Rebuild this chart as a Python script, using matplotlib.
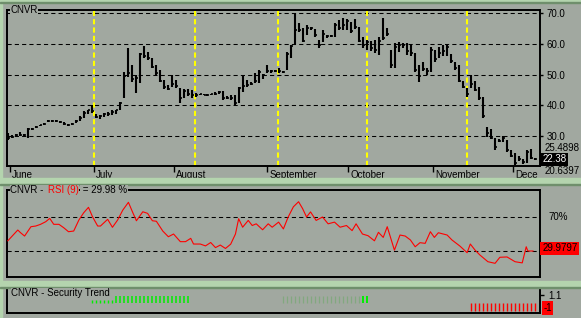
import numpy as np
import matplotlib
matplotlib.use("Agg")
import matplotlib.pyplot as plt
from matplotlib.patches import Rectangle
import matplotlib.transforms as mtransforms

# --- price bars (one per trading day, June..early December)
highs = [31.0, 30.2, 30.6, 31.2, 30.8, 32.6, 32.6, 33.1, 33.7, 34.3,
         35.2, 35.3, 35.2, 34.8, 34.4, 34.0, 34.2, 35.3, 36.4, 38.0,
         38.6, 40.0, 37.2, 36.8, 37.4, 37.8, 38.3, 38.6, 41.0, 50.8,
         58.6, 53.0, 49.8, 57.0, 59.3, 57.3, 55.4, 53.0, 51.5, 48.2,
         46.6, 49.8, 48.2, 45.6, 45.3, 45.3, 45.0, 44.0, 43.8, 43.8,
         43.6, 43.8, 44.2, 44.6, 44.5, 43.0, 43.2, 43.3, 46.0, 49.8,
         48.2, 47.5, 50.5, 51.5, 50.3, 53.0, 51.6, 51.5, 52.0, 51.2,
         57.3, 59.6, 70.0, 66.7, 65.1, 66.0, 65.6, 64.8, 61.2, 64.5,
         63.0, 63.0, 66.7, 67.7, 68.4, 68.0, 67.0, 68.0, 65.4, 62.2,
         61.2, 61.0, 61.2, 62.2, 68.4, 65.0, 58.0, 60.2, 60.6, 60.3,
         60.2, 60.0, 57.0, 53.0, 54.0, 52.0, 59.0, 58.0, 59.0, 59.5,
         59.5, 56.7, 54.0, 53.0, 47.9, 45.6, 49.8, 48.0, 46.0, 42.7,
         32.9, 32.3, 29.3, 29.0, 30.0, 28.7, 25.4, 24.4, 23.5, 22.5,
         25.4, 25.7, 22.8]
lows = [28.8, 29.3, 29.7, 30.1, 29.8, 29.4, 32.0, 32.6, 33.1, 33.6,
        34.4, 34.6, 34.7, 34.2, 33.7, 33.3, 33.5, 34.1, 35.0, 35.8,
        37.3, 37.6, 35.8, 35.6, 36.2, 36.6, 36.9, 37.0, 38.6, 42.4,
        49.2, 47.6, 44.0, 47.2, 55.4, 54.7, 52.0, 50.0, 47.6, 45.4,
        45.0, 46.0, 45.6, 40.7, 42.4, 43.0, 42.4, 42.6, 43.2, 43.2,
        43.1, 43.2, 43.4, 43.8, 41.8, 42.0, 41.8, 40.2, 40.7, 44.3,
        46.0, 46.5, 47.2, 47.2, 48.5, 50.5, 50.6, 50.8, 50.6, 50.4,
        51.5, 55.4, 60.0, 63.8, 60.5, 62.8, 64.4, 62.2, 58.6, 60.6,
        62.0, 62.2, 62.2, 64.5, 64.5, 64.5, 63.5, 64.8, 60.6, 58.6,
        58.0, 57.7, 57.0, 56.3, 61.2, 62.5, 52.0, 52.0, 57.3, 58.5,
        56.3, 56.0, 50.8, 47.6, 51.0, 50.0, 50.8, 54.0, 55.5, 56.0,
        56.0, 53.7, 51.5, 47.6, 45.6, 42.7, 45.6, 44.5, 41.7, 35.9,
        29.7, 28.9, 25.4, 28.0, 28.0, 24.8, 23.2, 20.6, 22.0, 21.0,
        21.2, 22.5, 22.2]
closes = [29.2, 29.8, 30.2, 30.4, 30.2, 32.3, 32.4, 32.9, 33.5, 34.0,
          34.9, 34.9, 34.9, 34.4, 33.9, 33.6, 33.9, 35.0, 36.0, 37.6,
          38.3, 38.2, 36.2, 36.4, 37.0, 37.2, 37.8, 38.3, 40.6, 49.5,
          50.5, 48.5, 49.0, 56.8, 56.0, 55.5, 52.5, 50.5, 48.0, 46.0,
          45.4, 46.8, 46.2, 42.5, 44.6, 43.5, 43.2, 43.3, 43.5, 43.4,
          43.3, 43.6, 43.8, 44.2, 42.4, 42.5, 42.2, 40.6, 45.5, 46.4,
          46.5, 47.0, 48.0, 50.8, 50.0, 51.0, 51.2, 51.2, 51.0, 50.8,
          56.8, 59.3, 64.5, 64.5, 61.0, 65.2, 65.0, 63.0, 59.5, 63.2,
          62.5, 62.6, 66.2, 65.0, 66.0, 67.5, 64.0, 65.5, 61.0, 59.5,
          60.5, 58.5, 58.0, 61.0, 62.0, 63.2, 53.0, 58.8, 59.5, 59.6,
          57.5, 57.0, 51.5, 49.5, 51.8, 51.0, 58.0, 55.0, 57.0, 57.5,
          59.0, 54.5, 52.0, 48.0, 46.0, 43.5, 47.0, 45.0, 42.5, 36.5,
          31.0, 29.5, 26.5, 28.5, 29.5, 25.5, 23.6, 21.2, 22.5, 21.5,
          24.8, 23.0, 22.38]

months = ["June", "July", "August", "September", "October", "November", "Dece"]
month_pos = [0.5, 21.5, 41.5, 65.0, 85.3, 106.5, 126.5]
cycle_lines = [21.5, 46.8, 67.6, 89.9, 114.9]
price_levels = [30, 40, 50, 60, 70]

# --- RSI(9) polyline vertices (bar index, value)
rsi_idx = [0, 2.5, 3.2, 4.2, 5.8, 7, 8.2, 9.5, 10.5, 11.5, 12.8, 14, 15.2,
           16.5, 17.8, 19, 20.2, 21.2, 22.5, 23.2, 25, 26.2, 27.5, 28.8, 30.2,
           31.2, 32.2, 33.8, 35, 36.2, 37.2, 38.8, 40.2, 41.5, 43.2, 44.5, 45.8,
           46.5, 48.2, 49.5, 50.8, 52, 53.2, 54.5, 55.8, 57, 57.8, 58.8, 60.2,
           61.2, 62.2, 63.8, 65.2, 66.2, 67.8, 69, 70.2, 71.5, 72.8, 73.8, 74.8,
           75.8, 77.2, 78.8, 80.2, 81.8, 83.2, 84.8, 86.2, 87.2, 88.8, 90.2,
           91.8, 92.8, 94, 95, 96.8, 98.2, 99.5, 100.8, 102, 103.2, 104.5, 105.8,
           106.8, 107.8, 110, 111.2, 113.2, 115, 115.8, 117, 118.2, 120.2, 122,
           123.2, 125, 127, 128.8, 129.8, 130.2, 131.5]
rsi_val = [42, 54.7, 51.5, 47.6, 58.6, 59.4, 61.4, 64.5, 68.4, 61.4, 61.4,
           57.4, 52.7, 53.5, 66.5, 75, 81.4, 70.4, 59.4, 59.4, 67.3, 57.9, 66.5,
           78.2, 87.3, 76.2, 65.6, 76.2, 74.3, 65.6, 65, 53.5, 46.8, 50, 41, 41,
           44.9, 38.2, 38.2, 36, 40, 34, 37, 33, 38, 50, 68, 58, 66, 60, 62, 55,
           62, 58, 64, 56, 70, 82, 88, 80, 70, 76, 66, 70, 62, 64, 58, 60, 54,
           62, 50, 48, 42, 52, 46, 58.6, 31, 48.8, 47.6, 43, 35, 39.8, 39, 52.7,
           46, 51.5, 48.8, 43, 35.8, 28, 38.2, 31, 25.3, 17.4, 15.5, 22.6, 23,
           17.4, 16, 35, 30, 30]
rsi_levels = [30, 70]

# --- security trend histogram
trend_weak_up = list(range(21, 27))
trend_up = list(range(27, 46))
trend_up_dim = list(range(69, 89))
trend_up_late = [89, 90]
trend_down = list(range(116, 133))

bg = "#a1a8a0"
band = "#b4d4ae"
W, H = 581, 318


def fig_box(px_left, px_top, px_right, px_bottom):
    return [px_left / W, 1 - px_bottom / H, (px_right - px_left) / W,
            (px_bottom - px_top) / H]


plt.rcParams['font.family'] = ['Liberation Sans', 'DejaVu Sans']
fig = plt.figure(figsize=(5.81, 3.18), dpi=100, facecolor=bg)
fs = 7

# light green frame bands
for (x0, y0, w, h) in [(0, 0, 581, 2), (0, 0, 2, 318), (0, 178, 581, 6), (0, 281, 581, 6)]:
    fig.patches.append(Rectangle((x0 / W, 1 - (y0 + h) / H), w / W, h / H,
                                 transform=fig.transFigure, color=band, zorder=0))
for yy in [2, 184, 287]:
    fig.patches.append(Rectangle((0, 1 - (yy + 1) / H), 1, 1 / H,
                                 transform=fig.transFigure, color="#6f8f6c", zorder=0))

ax = fig.add_axes(fig_box(7, 10, 540, 166))
ax_rsi = fig.add_axes(fig_box(7, 190, 540, 277))
ax_tr = fig.add_axes(fig_box(7, 288, 540, 313))

for a in (ax, ax_rsi, ax_tr):
    a.set_facecolor(bg)
    a.set_xlim(-0.2, 133.25)
    for s in a.spines.values():
        s.set_linewidth(1.4)
        s.set_color("black")
    a.tick_params(labelsize=fs, length=0, pad=3)

idx = np.arange(len(highs))

# main price panel
ax.set_ylim(20.24, 70.98)
for lv in price_levels:
    ax.axhline(lv, color="black", lw=0.75, ls=(0, (4, 3)), zorder=1)
for cx in cycle_lines:
    ax.axvline(cx, color="#ffff00", lw=1.5, ls=(0, (2.5, 1.5)), zorder=2)
ax.vlines(idx, lows, highs, color="black", lw=1.5, zorder=3)
ax.hlines(closes, idx, idx + 0.5, color="black", lw=1.2, zorder=3)
ax.yaxis.tick_right()
ax.set_yticks(price_levels)
ax.set_yticklabels(["%.1f" % v for v in price_levels])
ax.tick_params(axis="y", length=2, width=1, pad=3)
ax.set_xticks(month_pos)
ax.set_xticklabels(months, ha="left")
ax.tick_params(axis="x", length=4, width=1, pad=-1, direction="out")
for lbl in ax.get_xticklabels():
    lbl.set_transform(lbl.get_transform() + mtransforms.ScaledTranslation(2 / 100, 0, fig.dpi_scale_trans))
ax.text(0.006, 1.0, "CNVR", transform=ax.transAxes, fontsize=fs, va="center", ha="left",
        bbox=dict(fc=bg, ec="none", pad=0.3))
ax.text(1.008, 26.1, "25.4898", transform=ax.get_yaxis_transform(), fontsize=fs,
        va="center", ha="left", clip_on=False)
ax.text(1.008, 18.5, "20.6397", transform=ax.get_yaxis_transform(), fontsize=fs,
        va="center", ha="left", clip_on=False)
ax.text(1.004, closes[-1], "%.2f" % closes[-1], transform=ax.get_yaxis_transform(),
        fontsize=fs, va="center", ha="left", color="white", clip_on=False,
        bbox=dict(fc="black", ec="none", pad=1.2))

# RSI panel
ax_rsi.set_ylim(-0.6, 101.8)
for lv in rsi_levels:
    ax_rsi.axhline(lv, color="black", lw=0.75, ls=(0, (4, 3)), zorder=1)
ax_rsi.plot(rsi_idx, rsi_val, color="red", lw=0.8, zorder=3)
ax_rsi.set_xticks([])
ax_rsi.set_yticks([])
ax_rsi.text(1.015, 70, "70%", transform=ax_rsi.get_yaxis_transform(), fontsize=fs,
            va="center", ha="left", clip_on=False)
ax_rsi.text(1.004, 33, "29.9797", transform=ax_rsi.get_yaxis_transform(), fontsize=fs,
            va="center", ha="left", color="black", clip_on=False,
            bbox=dict(fc="#ff0000", ec="none", pad=1.2))

# multi-coloured RSI title, parts placed one after another
renderer = fig.canvas.get_renderer()
title_parts = [("CNVR - ", "black"), ("RSI (9)", "red"), (" = 29.98 %", "black")]
tx = 10 / W
for txt, col in title_parts:
    t = fig.text(tx, 1 - 190 / H, txt, color=col, fontsize=fs, va="center", ha="left",
                 bbox=dict(fc=bg, ec="none", pad=0.3), zorder=5)
    bb = t.get_window_extent(renderer)
    tx = bb.x1 / fig.bbox.width + 1.5 / W

# security trend panel
ax_tr.set_ylim(-1.27, 2.07)
ax_tr.vlines(trend_weak_up, 0, 0.5, color="#00ee00", lw=1.0)
ax_tr.vlines(trend_up, 0, 1, color="#00ee00", lw=1.1)
ax_tr.vlines(trend_up_dim, 0, 1, color="#82a880", lw=0.9)
ax_tr.vlines(trend_up_late, 0, 1, color="#00ee00", lw=1.4)
ax_tr.vlines(trend_down, 0, -1, color="#ff0000", lw=1.0)
ax_tr.set_xticks([])
ax_tr.yaxis.tick_right()
ax_tr.set_yticks([1.1])
ax_tr.set_yticklabels(["1.1"])
ax_tr.tick_params(axis="y", length=3, width=1, pad=3)
ax_tr.text(1.006, -0.62, "-1", transform=ax_tr.get_yaxis_transform(), fontsize=fs,
           va="center", ha="left", color="black", clip_on=False,
           bbox=dict(fc="#ff0000", ec="none", pad=1.2))
fig.text(11 / W, 1 - 293 / H, "CNVR - Security Trend", fontsize=fs, va="center", ha="left",
         bbox=dict(fc=bg, ec="none", pad=0.3), zorder=5)

fig.savefig("out.png", dpi=100, facecolor=bg)
